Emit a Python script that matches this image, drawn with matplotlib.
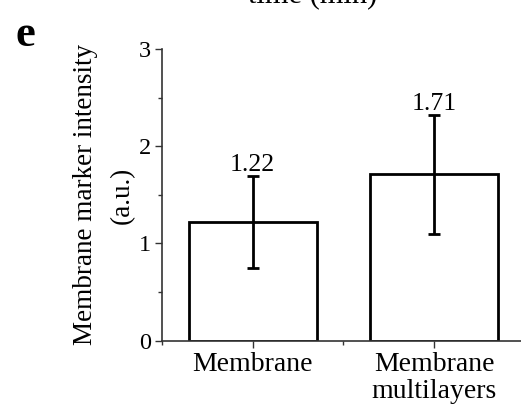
import matplotlib
matplotlib.use("Agg")
import matplotlib.pyplot as plt
from matplotlib.ticker import MultipleLocator

categories = ["Membrane", "Membrane\nmultilayers"]
means = [1.22, 1.71]
errors = [0.47, 0.61]
value_labels = ["1.22", "1.71"]

plt.rcParams["font.family"] = ["Liberation Serif", "DejaVu Serif"]

fig = plt.figure(figsize=(5.21, 4.16), dpi=100)
ax = fig.add_axes([0.311, 0.181, 0.689, 0.701])

x = list(range(len(categories)))
ax.bar(x, means, width=0.707, color="white", edgecolor="black", linewidth=2.0,
       zorder=2)
ax.errorbar(x, means, yerr=errors, fmt="none", ecolor="black", elinewidth=2.0,
            capsize=4, capthick=2.0, zorder=3)

for xi, m, e, lab in zip(x, means, errors, value_labels):
    ax.text(xi, m + e + 0.0, lab, ha="center", va="bottom", fontsize=18.5)

ax.set_xlim(-0.5, 1.48)
ax.set_ylim(0, 3)
ax.set_xticks(x)
ax.set_xticklabels(categories, fontsize=20, linespacing=1.12)
ax.yaxis.set_major_locator(MultipleLocator(1))
ax.yaxis.set_minor_locator(MultipleLocator(0.5))
ax.xaxis.set_minor_locator(MultipleLocator(0.5))
ax.tick_params(axis="y", labelsize=17.5)
ax.tick_params(which="major", length=5, width=1.0, color="#333333", pad=3)
ax.tick_params(which="minor", length=3, width=1.0, color="#333333")

for side in ("top", "right"):
    ax.spines[side].set_visible(False)
for side in ("left", "bottom"):
    ax.spines[side].set_linewidth(1.2)
    ax.spines[side].set_color("#333333")

ax.set_ylabel("Membrane marker intensity\n(a.u.)", fontsize=19.5,
              linespacing=1.6, labelpad=3)

fig.text(0.029, 0.889, "e", fontsize=32, fontweight="bold", ha="left",
         va="baseline")
fig.text(0.60, 0.994, "time (min)", fontsize=22, ha="center", va="baseline")

fig.savefig("out.png", dpi=100)
